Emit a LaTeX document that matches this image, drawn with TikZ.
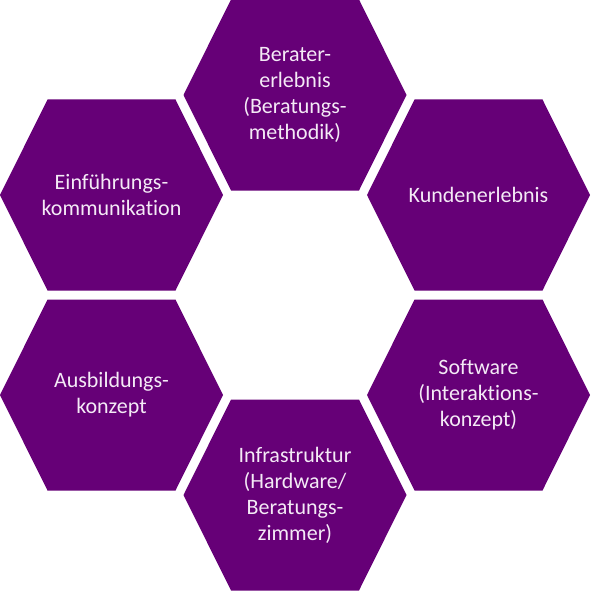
\documentclass[tikz,border=0pt]{standalone}
\usepackage{fontspec}
\setmainfont[Ligatures=NoCommon]{Carlito}
\definecolor{hexpurple}{RGB}{102,0,119}
\definecolor{hextext}{RGB}{244,234,246}
\tikzset{
  hexa/.pic={
    \fill[hexpurple] (-111.5,0)--(-64,-95.5)--(64,-95.5)--(111.5,0)--(64,95.5)--(-64,95.5)--cycle;
  },
  hexlabel/.style={text=hextext, align=center, font=\fontsize{22}{26}\selectfont}
}
\begin{document}
\begin{tikzpicture}[x=1pt, y=-1pt]
        \useasboundingbox (0,0) rectangle (590,591);
        \begin{scope}
        \pic at (295,95) {hexa};
        \pic at (478.5,195) {hexa};
        \pic at (111.5,195) {hexa};
        \pic at (111.5,395) {hexa};
        \pic at (478.5,395) {hexa};
        \pic at (295,495) {hexa};
        \node[hexlabel] (berater) at (295,95) {Berater-\\erlebnis\\(Beratungs-\\methodik)};
        \node[hexlabel] (kunde) at (478.5,195) {Kundenerlebnis};
        \node[hexlabel] (einf) at (111.5,195) {Einführungs-\\kommunikation};
        \node[hexlabel] (ausb) at (111.5,395) {Ausbildungs-\\konzept};
        \node[hexlabel] (soft) at (478.5,395) {Software\\(Interaktions-\\konzept)};
        \node[hexlabel] (infra) at (295,495) {Infrastruktur\\(Hardware/\\Beratungs-\\zimmer)};
        \end{scope}
\end{tikzpicture}
\end{document}
